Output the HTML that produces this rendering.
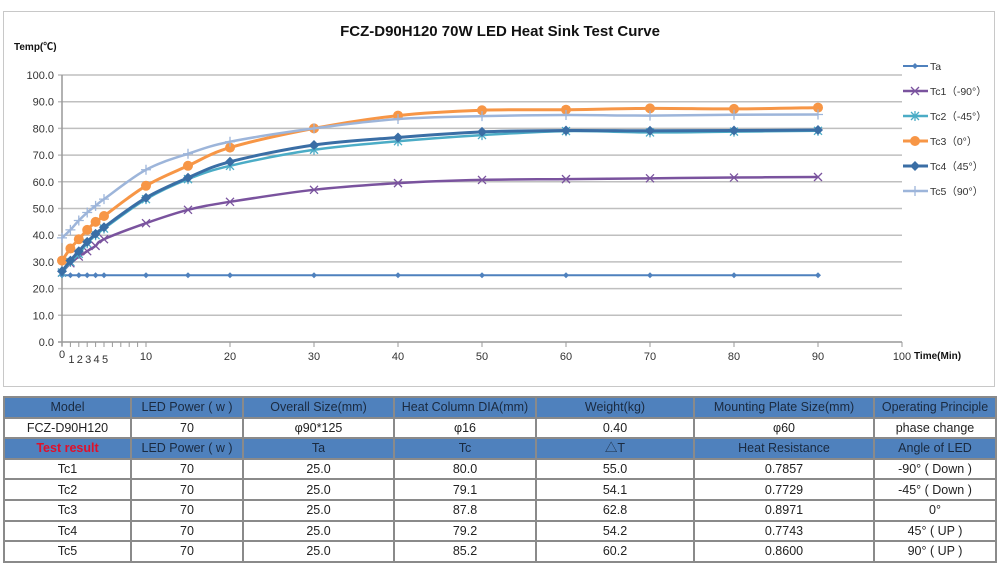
<!DOCTYPE html>
<html><head><meta charset="utf-8"><style>
body{margin:0;width:1000px;height:566px;background:#fff;font-family:"Liberation Sans","Noto Sans CJK SC",sans-serif;overflow:hidden;position:relative}
#frame{position:absolute;left:3px;top:11px;width:992px;height:376px;border:1px solid #c8c8c8;box-sizing:border-box}
table{position:absolute;left:3px;top:396px;border-collapse:collapse;font-size:12.5px;color:#222}
tr{height:20.6px}
td{border:2px solid #8a8a8a;text-align:center;padding:0;line-height:16px}
tr.h td{background:#4f81bd;color:#1a2a40}
</style></head><body>
<div id="frame"></div>
<svg id="s" width="1000" height="390" style="position:absolute;left:0;top:0" font-family="Liberation Sans, Noto Sans CJK SC, sans-serif"></svg>
<table>
<colgroup><col style="width:127px"><col style="width:112px"><col style="width:151px"><col style="width:142px"><col style="width:158px"><col style="width:180px"><col style="width:122px"></colgroup>
<tr class="h"><td>Model</td><td>LED Power ( w )</td><td>Overall Size(mm)</td><td>Heat Column DIA(mm)</td><td>Weight(kg)</td><td>Mounting Plate Size(mm)</td><td>Operating Principle</td></tr>
<tr><td>FCZ-D90H120</td><td>70</td><td>φ90*125</td><td>φ16</td><td>0.40</td><td>φ60</td><td>phase change</td></tr>
<tr class="h"><td style="color:#e0102a;font-weight:bold">Test result</td><td>LED Power ( w )</td><td>Ta</td><td>Tc</td><td>△T</td><td>Heat Resistance</td><td>Angle of LED</td></tr>
<tr><td>Tc1</td><td>70</td><td>25.0</td><td>80.0</td><td>55.0</td><td>0.7857</td><td>-90° ( Down )</td></tr>
<tr><td>Tc2</td><td>70</td><td>25.0</td><td>79.1</td><td>54.1</td><td>0.7729</td><td>-45° ( Down )</td></tr>
<tr><td>Tc3</td><td>70</td><td>25.0</td><td>87.8</td><td>62.8</td><td>0.8971</td><td>0°</td></tr>
<tr><td>Tc4</td><td>70</td><td>25.0</td><td>79.2</td><td>54.2</td><td>0.7743</td><td>45° ( UP )</td></tr>
<tr><td>Tc5</td><td>70</td><td>25.0</td><td>85.2</td><td>60.2</td><td>0.8600</td><td>90° ( UP )</td></tr>
</table>
<script>
var s=document.getElementById('s'),h='';
var X=function(t){return 62+t*8.4},Y=function(v){return 342-v*2.67};
h+='<text x="500" y="36" text-anchor="middle" font-weight="bold" font-size="15" fill="#111">FCZ-D90H120 70W LED Heat Sink Test Curve</text>';
h+='<text x="14" y="50" font-weight="bold" font-size="10" fill="#111">Temp(℃)</text>';
for(var v=0;v<=100;v+=10){var y=Y(v);h+='<line x1="58" x2="902" y1="'+y+'" y2="'+y+'" stroke="'+(v?'#bfbfbf':'#999')+'" stroke-width="1.5"/>';h+='<text x="54" y="'+(y+4)+'" text-anchor="end" font-size="11" fill="#333">'+v.toFixed(1)+'</text>';}
h+='<line x1="62" x2="62" y1="75" y2="346" stroke="#999" stroke-width="1.5"/>';
for(var t=0;t<=100;t++){if(t<10||t%10==0)h+='<line x1="'+X(t)+'" x2="'+X(t)+'" y1="342" y2="347" stroke="#999"/>';}
for(t=10;t<=100;t+=10)h+='<text x="'+X(t)+'" y="360" text-anchor="middle" font-size="11" fill="#333">'+t+'</text>';
h+='<text x="62" y="358" text-anchor="middle" font-size="11" fill="#333">0</text>';
for(t=1;t<=5;t++)h+='<text x="'+(X(t)+1)+'" y="363" text-anchor="middle" font-size="11" fill="#333">'+t+'</text>';
h+='<text x="914" y="359" font-weight="bold" font-size="10" fill="#111">Time(Min)</text>';
var T=[0,1,2,3,4,5,10,15,20,30,40,50,60,70,80,90];
var S=[
['Ta','#4f81bd','d',[25,25,25,25,25,25,25,25,25,25,25,25,25,25,25,25],2],
['Tc1（-90°）','#7a539e','x',[26,29.5,32,34,36,38.5,44.5,49.5,52.5,57,59.5,60.7,61,61.3,61.6,61.8],2.5],
['Tc2（-45°）','#4bacc6','*',[26,30,33,37,40,42.5,53.5,61,66,72,75.2,77.5,79,78.5,78.8,79.1],2.5],
['Tc3（0°）','#f79646','o',[30.5,35,38.5,42,45,47.2,58.5,66,72.8,80,84.8,86.8,87,87.5,87.3,87.8],3],
['Tc4（45°）','#3a6ea5','D',[26.5,30.5,34,37.5,40.5,43,54,61.5,67.5,73.8,76.6,78.7,79.2,79.1,79.2,79.4],3],
['Tc5（90°）','#9db5da','+',[39,42,45.5,48.5,51,53.5,64.5,70.5,75,80,83.5,84.6,85,84.8,85.1,85.2],2.5]];
function mk(m,x,y,c){
 if(m=='d')return '<path d="M'+x+' '+(y-3)+'L'+(x+3)+' '+y+'L'+x+' '+(y+3)+'L'+(x-3)+' '+y+'Z" fill="'+c+'"/>';
 if(m=='D')return '<path d="M'+x+' '+(y-5)+'L'+(x+5)+' '+y+'L'+x+' '+(y+5)+'L'+(x-5)+' '+y+'Z" fill="'+c+'"/>';
 if(m=='o')return '<circle cx="'+x+'" cy="'+y+'" r="5" fill="'+c+'"/>';
 var r='<path d="M'+(x-4)+' '+(y-4)+'L'+(x+4)+' '+(y+4)+'M'+(x+4)+' '+(y-4)+'L'+(x-4)+' '+(y+4);
 if(m=='*')r+='M'+x+' '+(y-5)+'V'+(y+5);
 if(m=='+')r='<path d="M'+x+' '+(y-5)+'V'+(y+5)+'M'+(x-5)+' '+y+'H'+(x+5);
 return r+'" stroke="'+c+'" stroke-width="1.3" fill="none"/>';}
S.forEach(function(se,k){
 var P=T.map(function(t,i){return [X(t),Y(se[3][i])]});
 var d='M'+P[0];
 for(var i=0;i<P.length-1;i++){var p0=P[i-1]||P[i],p1=P[i],p2=P[i+1],p3=P[i+2]||p2;
  d+='C'+(p1[0]+(p2[0]-p0[0])/6)+','+(p1[1]+(p2[1]-p0[1])/6)+' '+(p2[0]-(p3[0]-p1[0])/6)+','+(p2[1]-(p3[1]-p1[1])/6)+' '+p2;}
 h+='<path d="'+d+'" fill="none" stroke="'+se[1]+'" stroke-width="'+se[4]+'"/>';
 P.forEach(function(p){h+=mk(se[2],p[0],p[1],se[1])});
 var ly=66+k*25;
 h+='<line x1="903" x2="928" y1="'+ly+'" y2="'+ly+'" stroke="'+se[1]+'" stroke-width="'+se[4]+'"/>'+mk(se[2],915,ly,se[1]);
 h+='<text x="930" y="'+(ly+4)+'" font-size="10.5" fill="#333">'+se[0]+'</text>';
});
s.innerHTML=h;
</script>
</body></html>
